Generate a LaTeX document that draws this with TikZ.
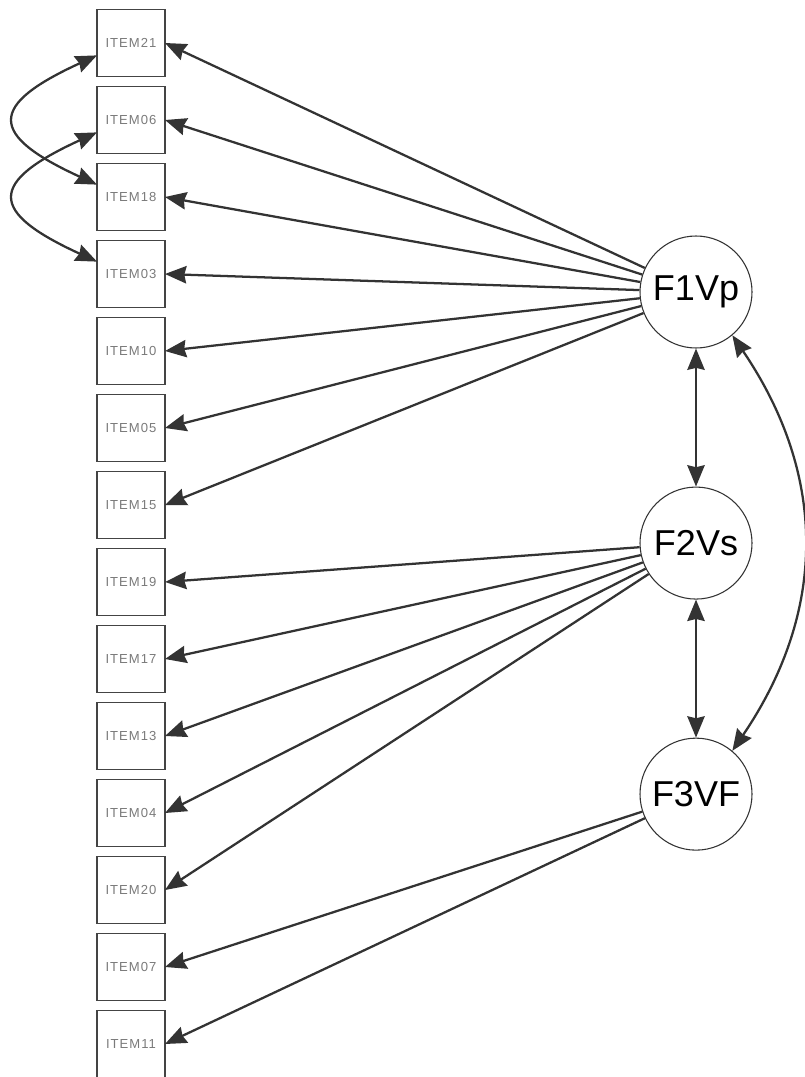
\documentclass[tikz,border=0pt]{standalone}
\usepackage{fontspec}
\setmainfont{Liberation Sans}
\newfontfamily\itemfont[LetterSpace=8]{Liberation Sans}
\usepackage{tikz}
\usetikzlibrary{arrows.meta,positioning}
\definecolor{edgegray}{HTML}{333333}
\definecolor{boxgray}{HTML}{444444}
\definecolor{textgray}{HTML}{7A7A7A}

\tikzset{
  itembox/.style={rectangle,draw=boxgray,line width=1.1pt,minimum width=51pt,minimum height=50.25pt,inner sep=0pt,outer sep=0pt,font=\itemfont\fontsize{9.8}{11}\selectfont,text=textgray},
  factor/.style={circle,draw=edgegray,line width=0.8pt,minimum size=84pt,inner sep=0pt,font=\fontsize{27}{30}\selectfont},
  load/.style={->,draw=edgegray,line width=1.7pt},
  cov/.style={<->,draw=edgegray,line width=1.7pt}
}

\begin{document}
\begin{tikzpicture}[x=0.75pt,y=-0.75pt,node distance=7.5pt,>={Stealth[length=16pt,width=13pt,inset=1.5pt]}]
\useasboundingbox (0,0) rectangle (805,1077);

% observed items
\node (i21) [itembox] at (131,43) {ITEM21};
\node (i06) [itembox,below=of i21] {ITEM06};
\node (i18) [itembox,below=of i06] {ITEM18};
\node (i03) [itembox,below=of i18] {ITEM03};
\node (i10) [itembox,below=of i03] {ITEM10};
\node (i05) [itembox,below=of i10] {ITEM05};
\node (i15) [itembox,below=of i05] {ITEM15};
\node (i19) [itembox,below=of i15] {ITEM19};
\node (i17) [itembox,below=of i19] {ITEM17};
\node (i13) [itembox,below=of i17] {ITEM13};
\node (i04) [itembox,below=of i13] {ITEM04};
\node (i20) [itembox,below=of i04] {ITEM20};
\node (i07) [itembox,below=of i20] {ITEM07};
\node (i11) [itembox,below=of i07] {ITEM11};

% latent factors
\node (f1) [factor] at (696,292) {F1Vp};
\node (f2) [factor,below=103.5pt of f1] {F2Vs};
\node (f3) [factor,below=103.5pt of f2] {F3VF};

% loadings
\draw[load] (f1) -- (i21.east);
\draw[load] (f1) -- (i06.east);
\draw[load] (f1) -- (i18.east);
\draw[load] (f1) -- (i03.east);
\draw[load] (f1) -- (i10.east);
\draw[load] (f1) -- (i05.east);
\draw[load] (f1) -- (i15.east);

\draw[load] (f2) -- (i19.east);
\draw[load] (f2) -- (i17.east);
\draw[load] (f2) -- (i13.east);
\draw[load] (f2) -- (i04.east);
\draw[load] (f2) -- (i20.east);

\draw[load] (f3) -- (i07.east);
\draw[load] (f3) -- (i11.east);

% covariances
\draw[cov] (f1) -- (f2);
\draw[cov] (f2) -- (f3);
\draw[cov] (f1.-50) .. controls +(95,140) and +(95,-140) .. (f3.50);
\draw[cov] (i21.200) .. controls +(-109,50) and +(-109,-50) .. (i18.160);
\draw[cov] (i06.200) .. controls +(-109,50) and +(-109,-50) .. (i03.160);
\end{tikzpicture}
\end{document}
